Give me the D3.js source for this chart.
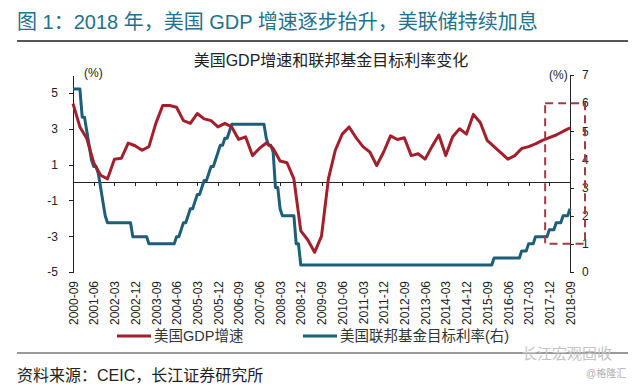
<!DOCTYPE html>
<meta charset="utf-8">
<style>
body { margin: 0; background: #fff; }
svg { font-family: "Liberation Sans", Arial, "Noto Sans CJK SC", sans-serif; }
.axis path, .axis line { stroke: #222; shape-rendering: crispEdges; }
.axis text { fill: #222; font-size: 12px; }
</style>
<body>
<script src="https://cdn.jsdelivr.net/npm/d3@7"></script>
<script>

// ---- data ----
// quarter labels shown on the x axis (every 3rd quarter, 2000-09 .. 2018-09)
var xLabels = ["2000-09","2001-06","2002-03","2002-12","2003-09","2004-06","2005-03",
  "2005-12","2006-09","2007-06","2008-03","2008-12","2009-09","2010-06","2011-03",
  "2011-12","2012-09","2013-06","2014-03","2014-12","2015-09","2016-06","2017-03",
  "2017-12","2018-09"];

// US real GDP growth, YoY %, quarterly from 2000Q3 to 2018Q3
var gdp = [
  4.4, 3.1,                 // 2000
  2.45, 1.1, 0.4, 0.2,      // 2001
  1.3, 1.35, 2.2, 2.05,     // 2002
  1.8, 2.0, 3.3, 4.3,       // 2003
  4.3, 4.2, 3.45, 3.3,      // 2004
  3.85, 3.55, 3.45, 3.1,    // 2005
  3.3, 3.1, 2.4, 2.55,      // 2006
  1.5, 1.9, 2.2, 1.9,       // 2007
  1.2, 1.1, 0.2, -2.7,      // 2008
  -3.2, -3.9, -3.0, 0.2,    // 2009
  1.8, 2.7, 3.1, 2.5,       // 2010
  2.0, 1.7, 0.95, 1.7,      // 2011
  2.6, 2.4, 2.5, 1.5,       // 2012
  1.6, 1.3, 2.0, 2.65,      // 2013
  1.5, 2.55, 3.0, 2.7,      // 2014
  3.8, 3.35, 2.35, 2.0,     // 2015
  1.65, 1.3, 1.5, 1.9,      // 2016
  2.0, 2.15, 2.35, 2.5,     // 2017
  2.65, 2.85, 3.05          // 2018
];

// Fed funds target rate (upper bound) %, monthly from 2000-09 to 2018-09
var fedRate = [
  6.5, 6.5, 6.5, 6.5,                                                   // 2000 Sep-Dec
  5.5, 5.5, 5.0, 4.5, 4.0, 3.75, 3.75, 3.5, 3.0, 2.5, 2.0, 1.75,        // 2001
  1.75, 1.75, 1.75, 1.75, 1.75, 1.75, 1.75, 1.75, 1.75, 1.75, 1.25, 1.25, // 2002
  1.25, 1.25, 1.25, 1.25, 1.25, 1.0, 1.0, 1.0, 1.0, 1.0, 1.0, 1.0,      // 2003
  1.0, 1.0, 1.0, 1.0, 1.0, 1.25, 1.25, 1.5, 1.75, 1.75, 2.0, 2.25,      // 2004
  2.25, 2.5, 2.75, 2.75, 3.0, 3.25, 3.25, 3.5, 3.75, 3.75, 4.0, 4.25,   // 2005
  4.5, 4.5, 4.75, 4.75, 5.0, 5.25, 5.25, 5.25, 5.25, 5.25, 5.25, 5.25,  // 2006
  5.25, 5.25, 5.25, 5.25, 5.25, 5.25, 5.25, 5.25, 4.75, 4.5, 4.5, 4.25, // 2007
  3.0, 3.0, 2.25, 2.0, 2.0, 2.0, 2.0, 2.0, 2.0, 1.0, 1.0, 0.25,         // 2008
  0.25, 0.25, 0.25, 0.25, 0.25, 0.25, 0.25, 0.25, 0.25, 0.25, 0.25, 0.25, // 2009
  0.25, 0.25, 0.25, 0.25, 0.25, 0.25, 0.25, 0.25, 0.25, 0.25, 0.25, 0.25, // 2010
  0.25, 0.25, 0.25, 0.25, 0.25, 0.25, 0.25, 0.25, 0.25, 0.25, 0.25, 0.25, // 2011
  0.25, 0.25, 0.25, 0.25, 0.25, 0.25, 0.25, 0.25, 0.25, 0.25, 0.25, 0.25, // 2012
  0.25, 0.25, 0.25, 0.25, 0.25, 0.25, 0.25, 0.25, 0.25, 0.25, 0.25, 0.25, // 2013
  0.25, 0.25, 0.25, 0.25, 0.25, 0.25, 0.25, 0.25, 0.25, 0.25, 0.25, 0.25, // 2014
  0.25, 0.25, 0.25, 0.25, 0.25, 0.25, 0.25, 0.25, 0.25, 0.25, 0.25, 0.5,  // 2015
  0.5, 0.5, 0.5, 0.5, 0.5, 0.5, 0.5, 0.5, 0.5, 0.5, 0.5, 0.75,          // 2016
  0.75, 0.75, 1.0, 1.0, 1.0, 1.25, 1.25, 1.25, 1.25, 1.25, 1.25, 1.5,   // 2017
  1.5, 1.5, 1.75, 1.75, 1.75, 2.0, 2.0, 2.0, 2.25                       // 2018 Jan-Sep
];

var leftTicks = [-5, -3, -1, 1, 3, 5];
var rightTicks = [0, 1, 2, 3, 4, 5, 6, 7];

// highlighted period (quarter index) and right-axis range for the dashed box
var boxFrom = 68.4, boxTop = 6, boxBottom = 1;

var redC = "#a31f2b", tealC = "#1d5f78";

// ---- setup ----
var W = 640, H = 392;
var plot = {left: 73, right: 570, top: 75, bottom: 272};

var x = d3.scaleLinear().domain([0, 72]).range([plot.left, plot.right]);
var yL = d3.scaleLinear().domain([-5, 6]).range([plot.bottom, plot.top]);
var yR = d3.scaleLinear().domain([0, 7]).range([plot.bottom, plot.top]);

// plain hyphen for negatives, no decimals
var plain = function(d) { return String(d); };

var svg = d3.select("body").append("svg")
    .attr("width", W)
    .attr("height", H);

// header
svg.append("text")
    .attr("x", 17).attr("y", 29)
    .attr("fill", "#23718d")
    .style("font-size", "20px")
    .text("图 1：2018 年，美国 GDP 增速逐步抬升，美联储持续加息");

svg.append("line")
    .attr("x1", 17).attr("x2", 628).attr("y1", 41).attr("y2", 41)
    .attr("stroke", "#555").attr("stroke-width", 2);

svg.append("text")
    .attr("x", 331).attr("y", 66)
    .attr("text-anchor", "middle")
    .attr("fill", "#222")
    .style("font-size", "16px")
    .text("美国GDP增速和联邦基金目标利率变化");

// left axis
svg.append("g")
    .attr("class", "axis")
    .attr("transform", "translate(" + plot.left + ",0)")
    .call(d3.axisLeft(yL).tickValues(leftTicks).tickFormat(plain)
        .tickSize(4).tickSizeOuter(0).tickPadding(11));

// right axis
svg.append("g")
    .attr("class", "axis")
    .attr("transform", "translate(" + plot.right + ",0)")
    .call(d3.axisRight(yR).tickValues(rightTicks).tickFormat(plain)
        .tickSize(4).tickSizeOuter(0).tickPadding(8));

svg.append("text").attr("x", 84).attr("y", 77).style("font-size", "12px").attr("fill", "#222").text("(%)");
svg.append("text").attr("x", 549).attr("y", 79).style("font-size", "12px").attr("fill", "#222").text("(%)");

// zero line with ticks
svg.append("g")
    .attr("class", "axis")
    .attr("transform", "translate(0," + yL(0) + ")")
    .call(d3.axisBottom(x).tickValues(d3.range(0, 73, 3)).tickSize(4).tickSizeOuter(0).tickFormat(""));

// rotated date labels
svg.append("g")
    .attr("class", "axis")
    .attr("transform", "translate(0," + plot.bottom + ")")
    .call(d3.axisBottom(x).tickValues(d3.range(0, 73, 3)).tickSize(0)
        .tickFormat(function(d, i) { return xLabels[i]; }))
    .call(function(g) { g.select(".domain").remove(); })
  .selectAll("text")
    .attr("transform", "rotate(-90)")
    .attr("x", -9)
    .attr("y", 0)
    .attr("dy", "0.35em")
    .style("text-anchor", "end");

// lines
var gdpLine = d3.line()
    .x(function(d, i) { return x(i); })
    .y(function(d) { return yL(d); });

var fedLine = d3.line()
    .x(function(d, i) { return x(i / 3); })
    .y(function(d) { return yR(d); });

svg.append("path")
    .datum(fedRate)
    .attr("fill", "none")
    .attr("stroke", tealC)
    .attr("stroke-width", 3)
    .attr("stroke-linejoin", "round")
    .attr("d", fedLine);

svg.append("path")
    .datum(gdp)
    .attr("fill", "none")
    .attr("stroke", redC)
    .attr("stroke-width", 3)
    .attr("stroke-linejoin", "round")
    .attr("d", gdpLine);

// dashed highlight box
svg.append("rect")
    .attr("x", x(boxFrom))
    .attr("y", yR(boxTop))
    .attr("width", plot.right + 15 - x(boxFrom))
    .attr("height", yR(boxBottom) - yR(boxTop))
    .attr("fill", "none")
    .attr("stroke", "#a33a45")
    .attr("stroke-width", 2)
    .attr("stroke-dasharray", "8,5");

// legend
var legend = [
  {name: "美国GDP增速", color: redC, x: 117},
  {name: "美国联邦基金目标利率(右)", color: tealC, x: 303}
];
var lg = svg.selectAll(".lg").data(legend).enter().append("g")
    .attr("transform", function(d) { return "translate(" + d.x + ",336)"; });
lg.append("line").attr("x1", 0).attr("x2", 34)
    .attr("stroke", function(d) { return d.color; }).attr("stroke-width", 3);
lg.append("text").attr("x", 37).attr("dy", "0.35em")
    .style("font-size", "14.5px").attr("fill", "#333")
    .text(function(d) { return d.name; });

// footer
svg.append("line")
    .attr("x1", 17).attr("x2", 628).attr("y1", 353).attr("y2", 353)
    .attr("stroke", "#777").attr("stroke-width", 1.5);

svg.append("text")
    .attr("x", 17).attr("y", 381)
    .style("font-size", "16px").attr("fill", "#222")
    .text("资料来源：CEIC，长江证券研究所");

svg.append("text")
    .attr("x", 522).attr("y", 359)
    .style("font-size", "15px").attr("fill", "#c4c4c4")
    .text("长江宏观固收");

svg.append("text")
    .attr("x", 586).attr("y", 377)
    .style("font-size", "10px").attr("fill", "#b0b0b0")
    .text("@格隆汇");

</script>
</body>
